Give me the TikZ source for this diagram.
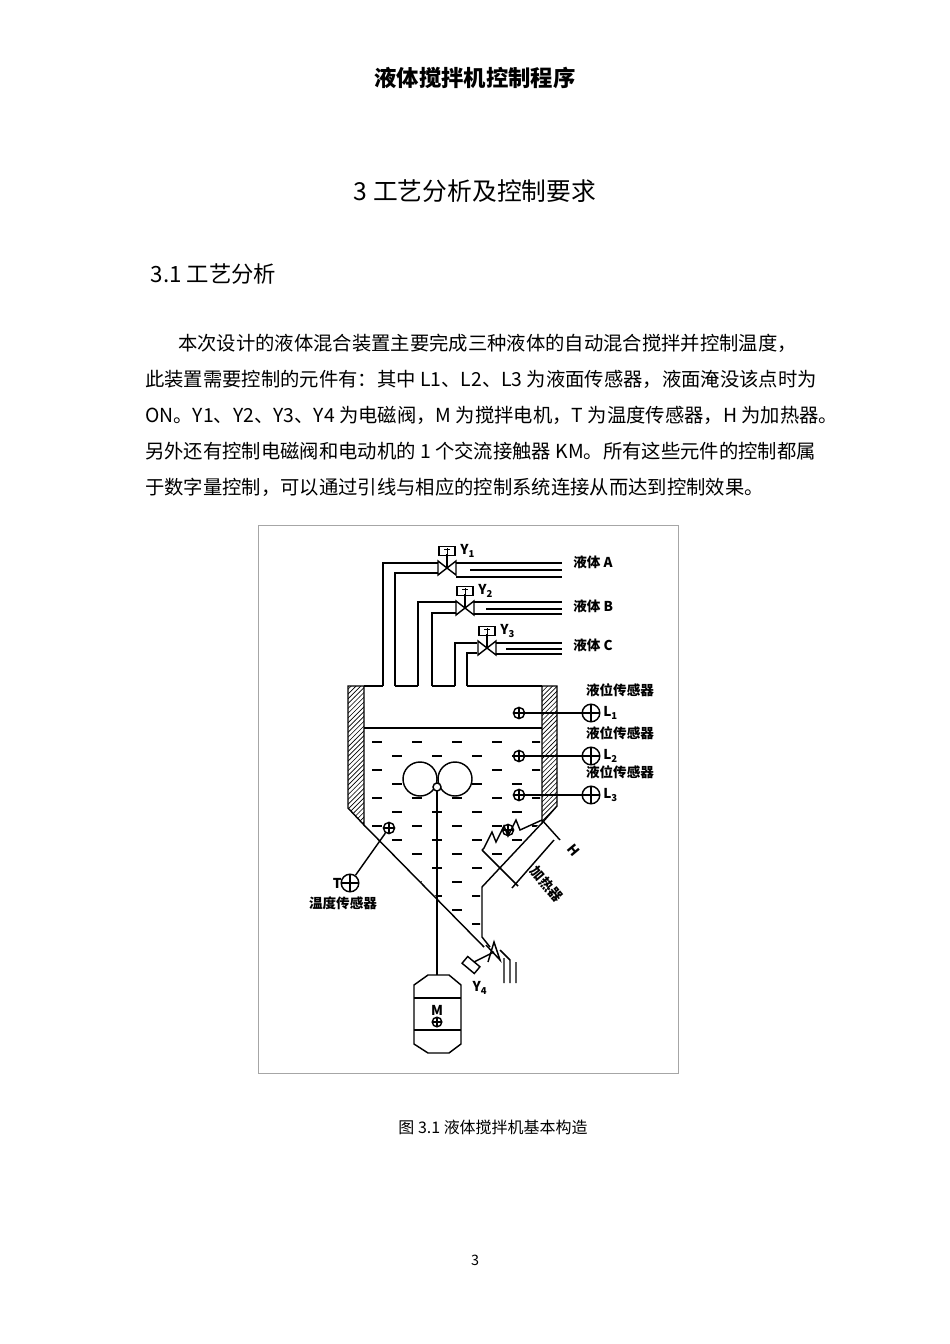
\documentclass[tikz,border=0pt]{standalone}
\usepackage{fontspec}
\setmainfont{Noto Sans CJK SC}
\newfontfamily\cjk{Noto Sans CJK SC}
\usetikzlibrary{patterns}
\begin{document}
\begin{tikzpicture}[x=0.626pt,y=-0.626pt,
  ln/.style={line width=0.9pt},
  lbl/.style={font=\fontsize{8.5pt}{9pt}\selectfont\bfseries, inner sep=0pt},
  body/.style={font=\fontsize{12.1pt}{14pt}\selectfont, anchor=west, inner sep=0pt},
  sens/.style={circle, draw, line width=0.9pt, inner sep=0pt, minimum size=#1, path picture={\draw (path picture bounding box.north)--(path picture bounding box.south) (path picture bounding box.west)--(path picture bounding box.east);}},
  act/.style={draw, line width=0.9pt, minimum width=10pt, minimum height=5.5pt, inner sep=0pt}]
\useasboundingbox (0,0) rectangle (950,1344);
\fill[white] (0,0) rectangle (950,1344);
% page text
\node[font=\fontsize{14pt}{16pt}\selectfont\bfseries] (hdr) at (475,78) {液体搅拌机控制程序};
\node[font=\fontsize{15.5pt}{18pt}\selectfont] (ttl) at (475,191) {3 工艺分析及控制要求};
\node[font=\fontsize{14pt}{16pt}\selectfont, anchor=west] (sec) at (145,274) {3.1 工艺分析};
\node[body] (p1) at (178,343) {本次设计的液体混合装置主要完成三种液体的自动混合搅拌并控制温度，};
\node[body] (p2) at (145,379) {此装置需要控制的元件有：其中 L1、L2、L3 为液面传感器，液面淹没该点时为};
\node[body] (p3) at (145,415) {ON。Y1、Y2、Y3、Y4 为电磁阀，M 为搅拌电机，T 为温度传感器，H 为加热器。};
\node[body] (p4) at (145,451) {另外还有控制电磁阀和电动机的 1 个交流接触器 KM。所有这些元件的控制都属};
\node[body] (p5) at (145,487) {于数字量控制，可以通过引线与相应的控制系统连接从而达到控制效果。};
\node[font=\fontsize{10pt}{12pt}\selectfont] (cap) at (493,1127) {图 3.1 液体搅拌机基本构造};
\node[font=\fontsize{9pt}{10pt}\selectfont] (pg) at (475,1260) {3};
% frame
\draw[gray!70, line width=0.6pt] (258,525) rectangle (678,1073);
% walls
\draw[ln, pattern=north east lines] (348,686) -- (364,686) -- (364,825) -- (348,808) -- cycle;
\draw[ln, pattern=north east lines] (542,686) -- (557,686) -- (557,806) -- (542,823) -- cycle;
% tank top edges
\draw[ln] (364,686) -- (383,686) (395,686) -- (418,686) (432,686) -- (455,686) (467,686) -- (542,686);
% liquid surface
\draw[ln] (364,728) -- (542,728);
% cone
\draw[ln] (364,825) -- (484,947);
\draw[ln] (542,823) -- (482,887) -- (482,937) -- (490,947);
% pipes
\draw[ln] (383,686) -- (383,563) -- (438,563);
\draw[ln] (395,686) -- (395,573) -- (438,573);
\draw[ln] (456,563) -- (562,563) (470,570) -- (562,570) (456,577) -- (562,577);
\draw[ln] (418,686) -- (418,602) -- (456,602);
\draw[ln] (432,686) -- (432,613) -- (456,613);
\draw[ln] (474,602) -- (562,602) (486,609) -- (562,609) (474,614) -- (562,614);
\draw[ln] (455,686) -- (455,643) -- (477,643);
\draw[ln] (467,686) -- (467,653) -- (477,653);
\draw[ln] (496,643) -- (562,643) (506,649) -- (562,649) (496,654) -- (562,654);
% valves
\foreach \n/\vx/\vy in {1/447/568, 2/465/608, 3/487/648} {
  \draw[ln] (\vx-9,\vy-7) -- (\vx+9,\vy+7) -- (\vx+9,\vy-7) -- (\vx-9,\vy+7) -- cycle;
  \draw[ln] (\vx,\vy) -- (\vx,\vy-14);
  \node[act] (a\n) at (\vx,\vy-17) {};
  \draw[line width=0.6pt] (\vx-3,\vy-19) -- (\vx+3,\vy-19) (\vx,\vy-20) -- (\vx,\vy-14);
  \node[lbl, anchor=west] (y\n) at (\vx+13,\vy-17) {Y\textsubscript{\n}};
}
\node[lbl, anchor=west] (la) at (573,562) {液体 A};
\node[lbl, anchor=west] (lb) at (573,606) {液体 B};
\node[lbl, anchor=west] (lc) at (573,645) {液体 C};
% level sensors
\foreach \n/\sy in {1/713, 2/756, 3/795} {
  \node[sens=7pt] (si\n) at (519,\sy) {};
  \node[sens=11pt] (so\n) at (591,\sy) {};
  \draw[ln] (si\n) -- (so\n);
  \node[lbl, anchor=west] (ll\n) at (603,\sy) {L\textsubscript{\n}};
  \node[lbl] (lt\n) at (620,\sy-23) {液位传感器};
}
% liquid dashes
\begin{scope}
\clip (366,730) -- (540,730) -- (540,823) -- (480,887) -- (480,940) -- (366,826) -- cycle;
\foreach \r in {0,...,14} {
  \pgfmathsetmacro{\yy}{742+14*\r}
  \pgfmathsetmacro{\off}{mod(\r,2)*20}
  \foreach \c in {0,...,5} {
    \draw[ln] ({372+\off+\c*40},\yy) -- ({382+\off+\c*40},\yy);
  }
}
\end{scope}
% stirrer
\draw[ln] (437,787) -- (437,975);
\draw[ln, fill=white] (420,779) circle[radius=17];
\draw[ln, fill=white] (455,779) circle[radius=17];
\node[circle, draw, fill=white, line width=0.9pt, minimum size=5pt, inner sep=0pt] (hub) at (437,787) {};
% motor
\draw[ln] (428,975) -- (449,975) -- (461,985) -- (461,1044) -- (449,1053) -- (428,1053) -- (414,1044) -- (414,985) -- cycle;
\draw[ln] (414,998) -- (461,998) (414,1030) -- (461,1030);
\node[lbl] (m) at (437,1010) {M};
\node[sens=6pt] (ms) at (437,1022) {};
% temperature sensor
\node[sens=7pt] (ti) at (389,828) {};
\node[sens=11pt] (to) at (350,883) {};
\draw[ln] (ti) -- (to);
\node[lbl, anchor=east] (tt) at (342,883) {T};
\node[lbl] (tl) at (343,903) {温度传感器};
% heater
\draw[ln] (482,850) -- (484,848) -- (492,832) -- (496,842) -- (504,826) -- (508,836) -- (516,820) -- (520,830) -- (542,820);
\node[sens=7pt] (hs) at (508,830) {};
\draw[ln] (482,850) -- (518,886);
\draw[ln] (542,820) -- (560,840);
\draw[ln] (512,888) -- (554,840);
\node[lbl, rotate=-50] (hl) at (547,884) {加热器};
\node[lbl, rotate=-50] (hh) at (574,850) {H};
% valve Y4
\draw[ln] (486,945) -- (500,960) -- (494,942) -- (488,962);
\draw[ln] (494,952) -- (474,962);
\node[act, rotate=-40] (a4) at (471,965) {};
\node[lbl] (y4) at (480,988) {Y\textsubscript{4}};
\draw[ln] (500,950) -- (510,960) -- (510,983) (504,958) -- (504,983) (516,962) -- (516,983);
\end{tikzpicture}
\end{document}
